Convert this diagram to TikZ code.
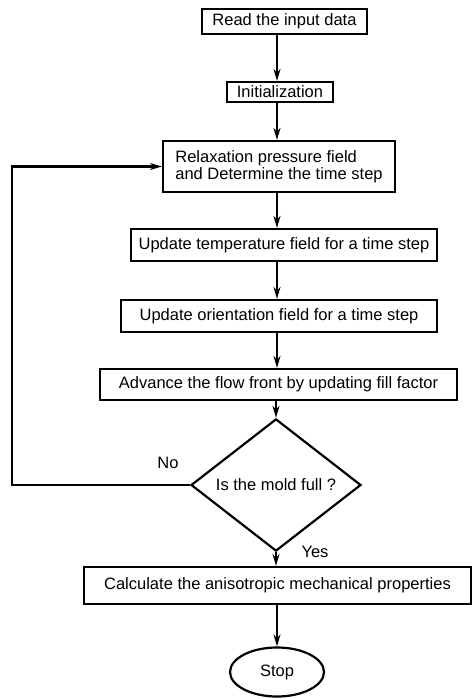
\documentclass[tikz,border=0pt]{standalone}
\usepackage{fontspec}
\setmainfont{Liberation Sans}
\usetikzlibrary{shapes.geometric,arrows.meta}
\begin{document}
\begin{tikzpicture}[x=1pt,y=-1pt,
  every node/.style={font=\fontsize{16.5}{19}\selectfont},
  stepbox/.style={draw,line width=2.2pt,inner sep=0pt,align=center},
  arr/.style={line width=2.2pt,-{Stealth[length=12pt,width=7pt]}},
  lbl/.style={inner sep=0pt}]
\useasboundingbox (0,0) rectangle (473,699);
\coordinate (col) at (277,0);
\coordinate (loop) at (12,0);
\node[stepbox,minimum width=165,minimum height=25] (read) at (284.5,21.5) {Read the input data};
\node[stepbox,minimum width=106,minimum height=20] (init) at (280,92) {Initialization};
\node[stepbox,minimum width=232,minimum height=51,align=left] (relax) at (279,166.5) {Relaxation pressure field\\[-2pt]and Determine the time step};
\node[stepbox,minimum width=306,minimum height=32] (temp) at (284,245) {Update temperature field for a time step};
\node[stepbox,minimum width=316,minimum height=32] (orient) at (279,316) {Update orientation field for a time step};
\node[stepbox,minimum width=357,minimum height=31] (adv) at (278.5,384.5) {Advance the flow front by updating fill factor};
\node[draw,diamond,line width=2.2pt,inner sep=0pt,minimum width=170,minimum height=92] (dec) at (276,485) {Is the mold full ?};
\node[stepbox,minimum width=387,minimum height=37] (calc) at (277.5,585.5) {Calculate the anisotropic mechanical properties};
\node[draw,ellipse,line width=2.2pt,inner sep=0pt,minimum width=94,minimum height=49] (stop) at (277,672) {Stop};
\node[lbl] (no) at (168,463) {No};
\node[lbl] (yes) at (315,552) {Yes};
\draw[arr] (read.south -| col) -- (init.north -| col);
\draw[arr] (init.south -| col) -- (relax.north -| col);
\draw[arr] (relax.south -| col) -- (temp.north -| col);
\draw[arr] (temp.south -| col) -- (orient.north -| col);
\draw[arr] (orient.south -| col) -- (adv.north -| col);
\draw[arr] (adv.south -| dec.north) -- (dec.north);
\draw[arr] (dec.south) -- (calc.north -| dec.south);
\draw[arr] (calc.south -| stop.north) -- (stop.north);
\draw[arr] (dec.west) -- (dec.west -| loop) |- (relax.west);
\end{tikzpicture}
\end{document}
